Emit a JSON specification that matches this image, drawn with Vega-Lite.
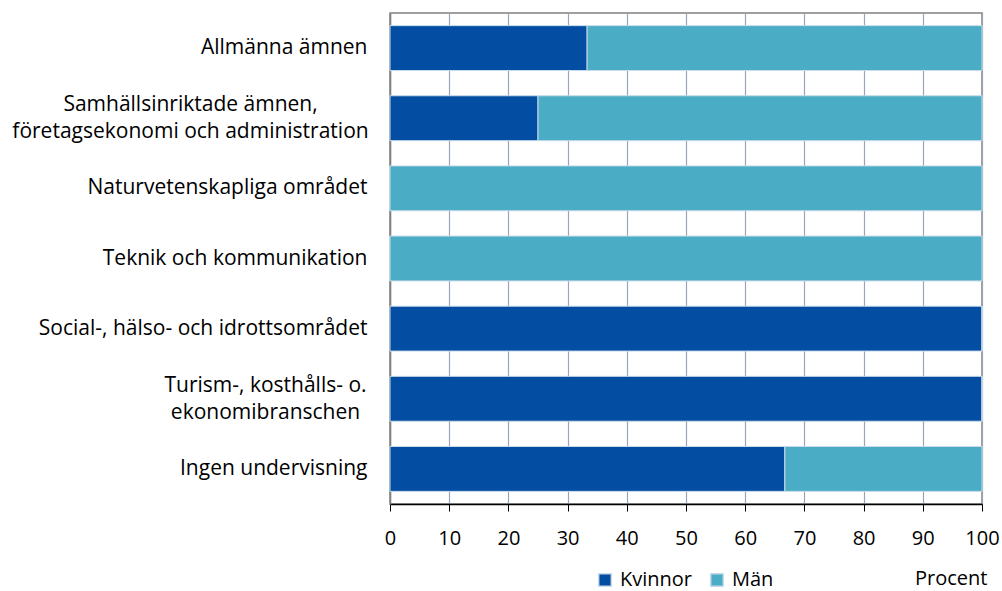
{
  "$schema": "https://vega.github.io/schema/vega-lite/v6.json",
  "width": 592,
  "height": 491,
  "autosize": {"type": "none"},
  "padding": {"left": 390, "top": 13, "right": 20, "bottom": 87},
  "config": {
    "font": "Open Sans",
    "view": {"stroke": "#808080", "strokeWidth": 1.5}
  },
  "data": {
    "values": [
      {"omrade": "Allmänna ämnen", "kon": "Kvinnor", "ordning": 1, "procent": 33.3},
      {"omrade": "Allmänna ämnen", "kon": "Män", "ordning": 2, "procent": 66.7},
      {"omrade": "Samhällsinriktade ämnen,|företagsekonomi och administration", "kon": "Kvinnor", "ordning": 1, "procent": 25},
      {"omrade": "Samhällsinriktade ämnen,|företagsekonomi och administration", "kon": "Män", "ordning": 2, "procent": 75},
      {"omrade": "Naturvetenskapliga området", "kon": "Kvinnor", "ordning": 1, "procent": 0},
      {"omrade": "Naturvetenskapliga området", "kon": "Män", "ordning": 2, "procent": 100},
      {"omrade": "Teknik och kommunikation", "kon": "Kvinnor", "ordning": 1, "procent": 0},
      {"omrade": "Teknik och kommunikation", "kon": "Män", "ordning": 2, "procent": 100},
      {"omrade": "Social-, hälso- och idrottsområdet", "kon": "Kvinnor", "ordning": 1, "procent": 100},
      {"omrade": "Social-, hälso- och idrottsområdet", "kon": "Män", "ordning": 2, "procent": 0},
      {"omrade": "Turism-, kosthålls- o.|ekonomibranschen ", "kon": "Kvinnor", "ordning": 1, "procent": 100},
      {"omrade": "Turism-, kosthålls- o.|ekonomibranschen ", "kon": "Män", "ordning": 2, "procent": 0},
      {"omrade": "Ingen undervisning", "kon": "Kvinnor", "ordning": 1, "procent": 66.7},
      {"omrade": "Ingen undervisning", "kon": "Män", "ordning": 2, "procent": 33.3}
    ]
  },
  "mark": {"type": "bar", "stroke": "#c9dbe9", "strokeWidth": 1},
  "encoding": {
    "y": {
      "field": "omrade",
      "type": "nominal",
      "sort": null,
      "scale": {"paddingInner": 0.36, "paddingOuter": 0.18},
      "axis": {
        "title": null,
        "labelExpr": "split(datum.label, '|')",
        "labelFontSize": 21,
        "labelColor": "#000000",
        "labelAlign": {"condition": {"test": "indexof(datum.value, '|') >= 0", "value": "center"}, "value": "right"},
        "labelPadding": {"condition": [
          {"test": "indexof(datum.value, 'Samh') == 0", "value": 200},
          {"test": "indexof(datum.value, 'Turism') == 0", "value": 125}
        ], "value": 23},
        "labelOffset": {"condition": {"test": "indexof(datum.value, '|') >= 0", "value": -13}, "value": 0},
        "labelLimit": 500,
        "labelLineHeight": 27,
        "ticks": false,
        "domain": true,
        "domainColor": "#808080",
        "domainWidth": 1.5
      }
    },
    "x": {
      "field": "procent",
      "type": "quantitative",
      "stack": "zero",
      "scale": {"domain": [0, 100], "nice": false},
      "axis": {
        "values": [0, 10, 20, 30, 40, 50, 60, 70, 80, 90, 100],
        "title": "Procent",
        "titleFontWeight": "normal",
        "titleFontSize": 20,
        "titleColor": "#000000",
        "titleAnchor": "end",
        "titleAlign": "right",
        "titleBaseline": "middle",
        "titleX": 597,
        "titleY": 74,
        "labelFontSize": 20,
        "labelColor": "#000000",
        "labelPadding": 17,
        "labelFlush": false,
        "tickColor": "#000000",
        "tickSize": 7,
        "domainColor": "#000000",
        "domainWidth": 1.5,
        "grid": true,
        "gridColor": "#9aa6b8",
        "gridWidth": 1.2
      }
    },
    "color": {
      "field": "kon",
      "type": "nominal",
      "sort": ["Kvinnor", "Män"],
      "scale": {"domain": ["Kvinnor", "Män"], "range": ["#034ea2", "#4bacc6"]},
      "legend": {
        "title": null,
        "orient": "none",
        "direction": "horizontal",
        "legendX": 205,
        "legendY": 557,
        "symbolType": "square",
        "symbolSize": 160,
        "symbolStrokeColor": "#c9dbe9",
        "labelFontSize": 20,
        "labelColor": "#000000",
        "columnPadding": 14,
        "labelOffset": 5
      }
    },
    "order": {"field": "ordning", "type": "quantitative"}
  }
}
